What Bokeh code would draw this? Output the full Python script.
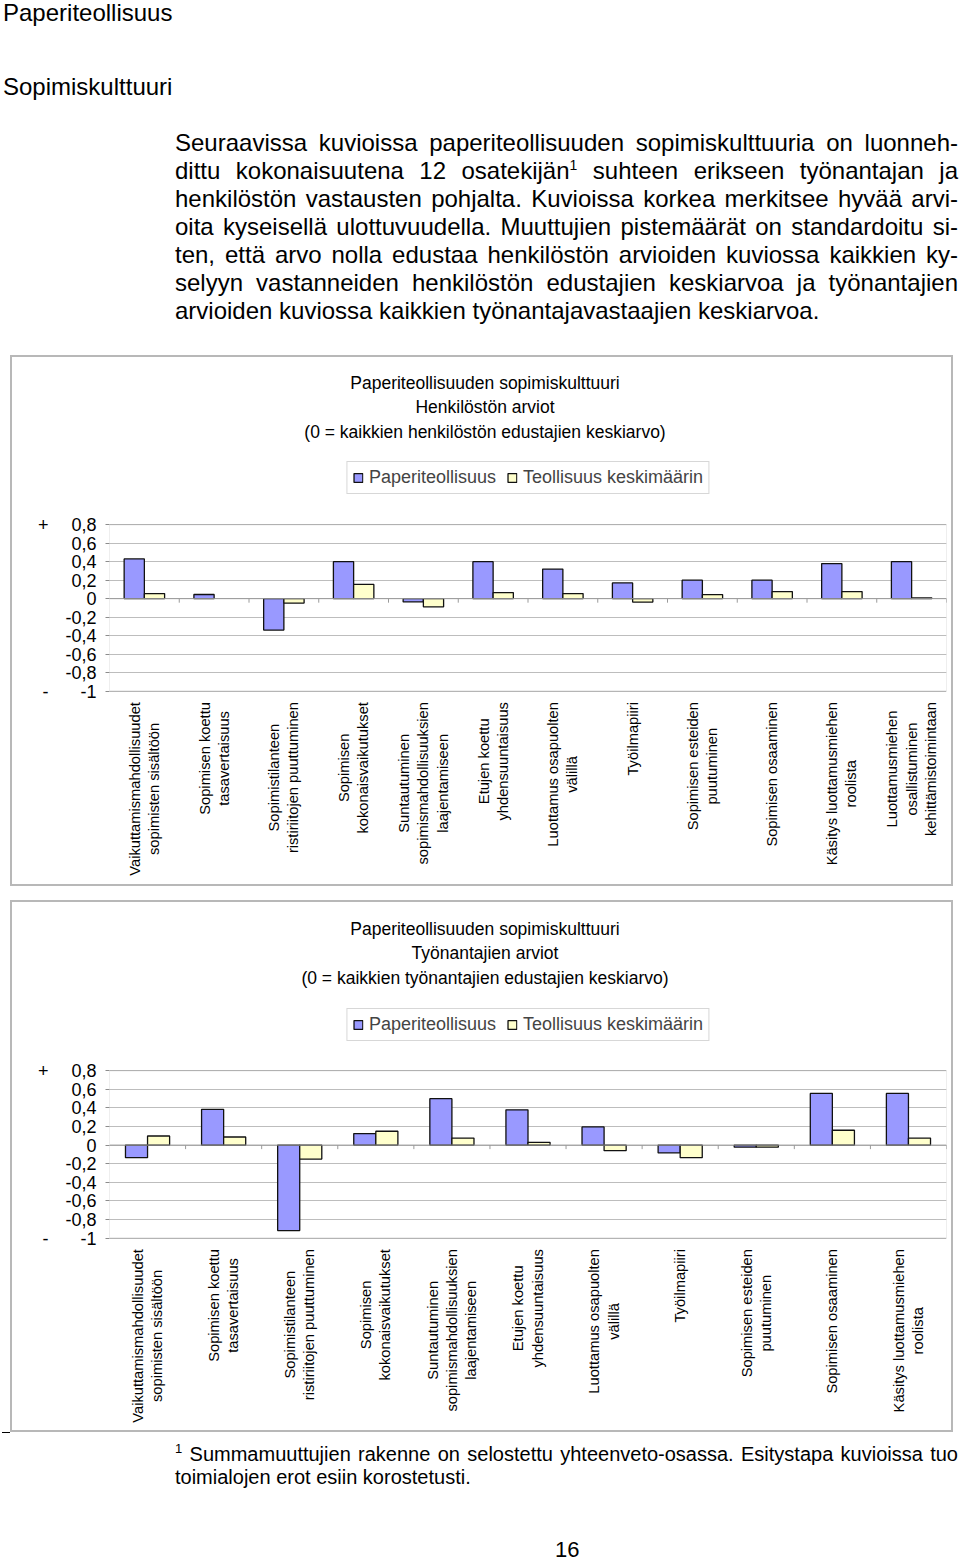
import math
from bokeh.plotting import figure
from bokeh.models import (FactorRange, Range1d, FixedTicker, CustomJSTickFormatter, Legend,
                          LegendItem, Label, Span, Div, ColumnDataSource, LinearAxis, BoxAnnotation)
from bokeh.core.properties import value
from bokeh.transform import dodge
from bokeh.layouts import column
from bokeh.embed import file_html
from bokeh.resources import INLINE

FONT = "Liberation Sans"

# ---------------- data ----------------
CATEGORIES = [
    "Vaikuttamismahdollisuudet\nsopimisten sisältöön",
    "Sopimisen koettu\ntasavertaisuus",
    "Sopimistilanteen\nristiriitojen puuttuminen",
    "Sopimisen\nkokonaisvaikutukset",
    "Suntautuminen\nsopimismahdollisuuksien\nlaajentamiseen",
    "Etujen koettu\nyhdensuuntaisuus",
    "Luottamus osapuolten\nvälillä",
    "Työilmapiiri",
    "Sopimisen esteiden\npuutuminen",
    "Sopimisen osaaminen",
    "Käsitys luottamusmiehen\nroolista",
    "Luottamusmiehen\nosallistuminen\nkehittämistoimintaan",
]
SERIES_NAMES = ["Paperiteollisuus", "Teollisuus keskimäärin"]

HENK_PAPERI = [0.43, 0.045, -0.34, 0.40, -0.035, 0.40, 0.32, 0.17, 0.20, 0.20, 0.38, 0.40]
HENK_TEOLLISUUS = [0.055, float("nan"), -0.048, 0.154, -0.088, 0.066, 0.055, -0.037, 0.044, 0.077, 0.077, 0.008]

TYON_CATEGORIES = CATEGORIES[:11]
TYON_PAPERI = [-0.135, 0.385, -0.92, 0.124, 0.50, 0.38, 0.196, -0.084, -0.022, 0.556, 0.556]
TYON_TEOLLISUUS = [0.098, 0.087, -0.15, 0.149, 0.076, 0.03, -0.06, -0.135, -0.022, 0.16, 0.076]

Y_TICKS = [-1, -0.8, -0.6, -0.4, -0.2, 0, 0.2, 0.4, 0.6, 0.8]
Y_MIN, Y_MAX = -1, 0.8

TITLES_HENK = ["Paperiteollisuuden sopimiskulttuuri", "Henkilöstön arviot",
               "(0 = kaikkien henkilöstön edustajien keskiarvo)"]
TITLES_TYON = ["Paperiteollisuuden sopimiskulttuuri", "Työnantajien arviot",
               "(0 = kaikkien työnantajien edustajien keskiarvo)"]

BLUE = "#9999FF"
YELLOW = "#FFFFCC"
GRID = "#bdbdbd"
AXIS_GRAY = "#8c8c8c"


def make_chart(cats, paper, teoll, titles, height, plot_px, head_px, bottom_px, legend_top, margin):
    """plot_px: pixel height of the value area (-1..0.8); head_px / bottom_px: pixels above / below it."""
    px_per_unit = plot_px / (Y_MAX - Y_MIN)
    y_top = Y_MAX + head_px / px_per_unit
    y_bottom = Y_MIN - bottom_px / px_per_unit
    n = len(cats)
    src = ColumnDataSource(dict(cat=cats, paper=paper, teoll=teoll))
    p = figure(x_range=FactorRange(*cats), y_range=Range1d(y_bottom, y_top), title=None,
               width=943, height=height, output_backend="svg", toolbar_location=None,
               x_axis_location=None,
               min_border_left=97, min_border_right=9, min_border_top=0,
               min_border_bottom=0, margin=margin,
               styles={"border": "2px solid #b8b8b8"})
    p.background_fill_color = "white"
    p.border_fill_color = "white"
    p.outline_line_color = None

    # grid
    p.xgrid.grid_line_color = None
    p.ygrid.ticker = FixedTicker(ticks=Y_TICKS)
    p.ygrid.grid_line_color = GRID
    p.ygrid.grid_line_width = 1

    # zero line with category separators
    p.add_layout(Span(location=0, dimension="width", line_color="#9a9a9a", line_width=1))
    p.segment(x0=dodge("cat", 0.5, range=p.x_range), y0=0,
              x1=dodge("cat", 0.5, range=p.x_range), y1=-4 / px_per_unit,
              source=src, line_color="#9a9a9a", line_width=1)

    r1 = p.vbar(x=dodge("cat", -0.145, range=p.x_range), top="paper", bottom=0, width=0.29,
                source=src, fill_color=BLUE, line_color="#111111", line_width=1.3)
    r2 = p.vbar(x=dodge("cat", 0.145, range=p.x_range), top="teoll", bottom=0, width=0.29,
                source=src, fill_color=YELLOW, line_color="#111111", line_width=1.3)

    # plot-area border
    p.add_layout(BoxAnnotation(top=Y_MAX, bottom=Y_MIN, fill_alpha=0, fill_color=None,
                               line_color=AXIS_GRAY, line_width=1))

    # category labels (rotated, lines centred, end of text next to the plot area)
    p.text(x="cat", y=Y_MIN - 11 / px_per_unit, text="cat", source=src,
           angle=math.pi / 2, anchor=value("center_right"), text_align="center",
           text_baseline="middle", text_font=value(FONT), text_font_size="14.7px",
           text_color="black", text_line_height=1.2)

    # y axis
    yax = p.yaxis[0]
    yax.ticker = FixedTicker(ticks=Y_TICKS)
    yax.formatter = CustomJSTickFormatter(
        code="return (Math.round(tick*10)/10).toString().replace('.', ',');")
    yax.axis_line_color = None
    yax.major_tick_out = 4
    yax.major_tick_in = 0
    yax.major_tick_line_color = AXIS_GRAY
    yax.minor_tick_line_color = None
    yax.major_label_standoff = 9
    yax.major_label_text_font = FONT
    yax.major_label_text_font_size = "18px"
    yax.major_label_text_color = "black"

    # + / - axis
    pm = LinearAxis(ticker=FixedTicker(ticks=[Y_MAX, Y_MIN]),
                    formatter=CustomJSTickFormatter(code="return tick > 0 ? '+' : '-';"))
    pm.axis_line_color = None
    pm.major_tick_line_color = None
    pm.minor_tick_line_color = None
    pm.major_label_standoff = 8
    pm.major_label_text_font = FONT
    pm.major_label_text_font_size = "18px"
    pm.major_label_text_color = "black"
    p.add_layout(pm, "left")

    # titles
    for t, d in zip(titles, [141, 116.5, 92]):
        p.add_layout(Label(x=n / 2, y=Y_MAX + d / px_per_unit, x_offset=-43,
                           text=t, text_align="center", text_baseline="middle",
                           text_font=FONT, text_font_size="17.5px", text_color="black"))

    legend = Legend(items=[LegendItem(label=SERIES_NAMES[0], renderers=[r1]),
                           LegendItem(label=SERIES_NAMES[1], renderers=[r2])],
                    orientation="horizontal", location="top_center", margin=legend_top,
                    padding=5, spacing=10, glyph_width=11, glyph_height=11, label_standoff=6,
                    label_text_font=FONT, label_text_font_size="18px",
                    border_line_color="#b0b0b0", border_line_width=1)
    p.add_layout(legend, "center")
    return p


p1 = make_chart(CATEGORIES, HENK_PAPERI, HENK_TEOLLISUUS, TITLES_HENK,
                height=531, plot_px=165, head_px=166, bottom_px=196, legend_top=104,
                margin=(0, 0, 0, 10))
p2 = make_chart(TYON_CATEGORIES, TYON_PAPERI, TYON_TEOLLISUUS, TITLES_TYON,
                height=532, plot_px=166, head_px=167, bottom_px=195, legend_top=106,
                margin=(14, 0, 0, 10))

para_lines = [
    "Seuraavissa kuvioissa paperiteollisuuden sopimiskulttuuria on luonneh-",
    "dittu kokonaisuutena 12 osatekijän<sup style='font-size:14px;line-height:0'>1</sup> suhteen erikseen työnantajan ja",
    "henkilöstön vastausten pohjalta. Kuvioissa korkea merkitsee hyvää arvi-",
    "oita kyseisellä ulottuvuudella. Muuttujien pistemäärät on standardoitu si-",
    "ten, että arvo nolla edustaa henkilöstön arvioiden kuviossa kaikkien ky-",
    "selyyn vastanneiden henkilöstön edustajien keskiarvoa ja työnantajien",
    "arvioiden kuviossa kaikkien työnantajavastaajien keskiarvoa.",
]
just = "text-align:justify;text-align-last:justify;white-space:nowrap;"
para_html = "".join(
    f"<div style='{just if i < len(para_lines) - 1 else 'white-space:nowrap;'}'>{l}</div>"
    for i, l in enumerate(para_lines))

header_html = f"""
<div style="position:relative;width:960px;height:355px;font-family:'Liberation Sans',Arial,sans-serif;color:#000;">
  <div style="position:absolute;left:3px;top:-1px;font-size:24px;line-height:28px;white-space:nowrap;">Paperiteollisuus</div>
  <div style="position:absolute;left:3px;top:73px;font-size:24px;line-height:28px;white-space:nowrap;">Sopimiskulttuuri</div>
  <div style="position:absolute;left:175px;top:129px;width:783px;font-size:24px;line-height:28px;">{para_html}</div>
</div>
"""
header = Div(text=header_html, width=960, height=355, margin=(0, 0, 0, 0))

footer_html = f"""
<div style="position:relative;width:960px;height:130px;font-family:'Liberation Sans',Arial,sans-serif;color:#000;">
  <div style="position:absolute;left:2px;top:0px;width:8px;height:1px;background:#000;"></div>
  <div style="position:absolute;left:175px;top:11px;width:783px;font-size:20px;line-height:23px;">
    <div style="{just}"><sup style='font-size:13px;line-height:0'>1</sup> Summamuuttujien rakenne on selostettu yhteenveto-osassa. Esitystapa kuvioissa tuo</div>
    <div style="white-space:nowrap;">toimialojen erot esiin korostetusti.</div>
  </div>
  <div style="position:absolute;left:555px;top:107px;font-size:22px;line-height:22px;">16</div>
</div>
"""
footer = Div(text=footer_html, width=960, height=130, margin=(0, 0, 0, 0))

layout = column(header, p1, p2, footer, spacing=0, margin=(0, 0, 0, 0))

with open("out.html", "w") as f:
    f.write(file_html(layout, INLINE))
